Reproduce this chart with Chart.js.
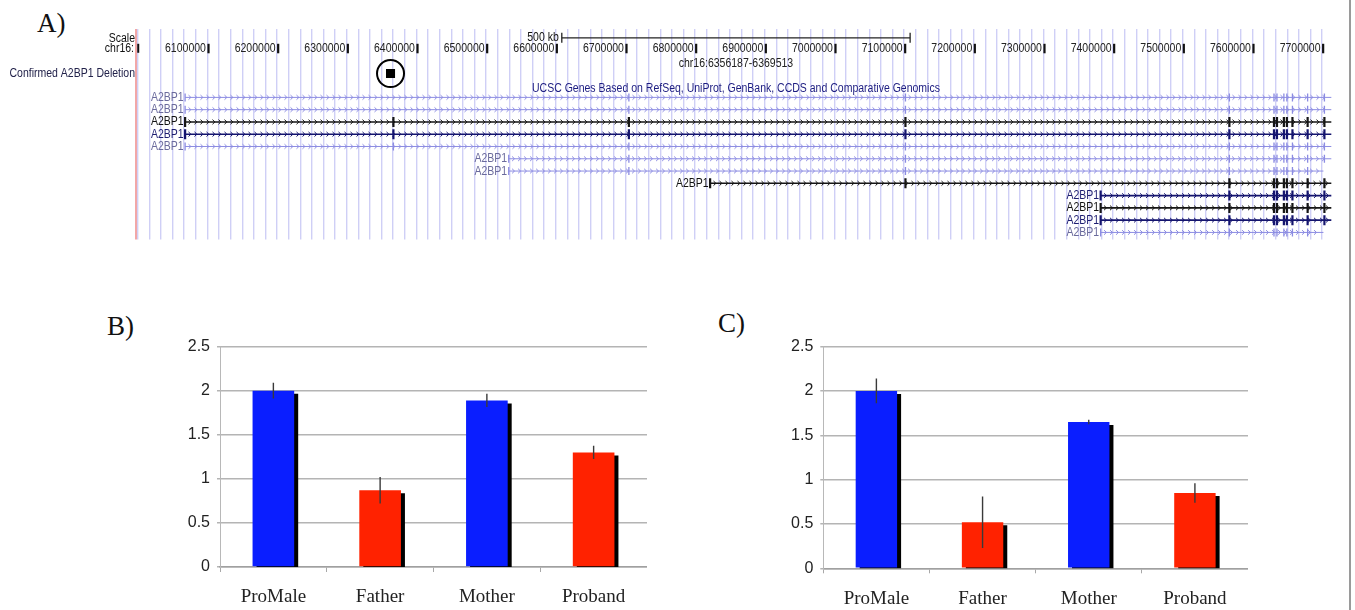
<!DOCTYPE html>
<html>
<head>
<meta charset="utf-8">
<script src="https://cdn.jsdelivr.net/npm/chart.js@4.4.0/dist/chart.umd.min.js"></script>
<style>
  body { margin: 0; background: #fff; width: 1355px; height: 610px; overflow: hidden; position: relative; }
  .panel { position: absolute; }
  .tag { position: absolute; font-family: "Liberation Serif", serif; font-size: 27px; line-height: 27px; color: #111; }
  #edge { position: absolute; left: 1349px; top: 0; width: 2px; height: 610px; background: #9a9a9a; }
</style>
</head>
<body>
<div class="tag" style="left:37px;top:10px">A)</div>
<div class="tag" style="left:107px;top:313px">B)</div>
<div class="tag" style="left:718px;top:310px">C)</div>
<div class="panel" style="left:0;top:0;width:1348px;height:255px"><canvas id="trackChart"></canvas></div>
<div class="panel" style="left:160px;top:330px;width:487px;height:280px"><canvas id="chartB"></canvas></div>
<div class="panel" style="left:770px;top:330px;width:478px;height:280px"><canvas id="chartC"></canvas></div>
<div id="edge"></div>
<script>
// ---- A) genome browser view, chr16 ----
const coordTicks = [6100000, 6200000, 6300000, 6400000, 6500000, 6600000, 6700000, 6800000,
  6900000, 7000000, 7100000, 7200000, 7300000, 7400000, 7500000, 7600000, 7700000];
const txRows = [1, 2, 3, 4, 5, 6, 7, 8, 9, 10, 11, 12];
const txStart = [6068000, 6068000, 6068000, 6068000, 6068000, 6532500, 6532500, 6821600, 7382200, 7382200, 7382200, 7382200];
const txEnd = [7713300, 7713300, 7713300, 7713300, 7713300, 7713300, 7702000, 7713300, 7713300, 7713300, 7713300, 7702000];
const exonPos = [6367000, 6705000, 7102000, 7567000, 7631000, 7635300, 7645200, 7649500, 7657500, 7679300, 7703400];
const exonRows = [
  [3, 4, 5],
  [1, 2, 3, 4, 5, 6, 7],
  [1, 2, 3, 4, 5, 6, 7, 8],
  txRows, txRows, txRows, txRows, txRows, txRows, txRows, txRows
];
const deletionRange = [6356187, 6369513];
const scaleBarRange = [6608700, 7108700];

// style per transcript row (kept apart from the values)
const txTone = ['light', 'light', 'dark', 'navy', 'light', 'light', 'light', 'dark', 'navy', 'dark', 'navy', 'light'];
const toneLine = { dark: '#151515', navy: '#14146e', light: '#8c8ce2' };
const toneText = { dark: '#111', navy: '#1c1c70', light: '#6a6a9c' };

// track rows on the y scale used for text lines
const scaleRow = -3.85, coordRow = -3.0, chrRangeRow = -1.72, deletionRow = -0.94, titleRow = 0.25;

function squeezeText(ctx, str, px, py, align, color) {
  ctx.save();
  ctx.font = '12.5px "Liberation Sans", Arial, sans-serif';
  ctx.fillStyle = color;
  ctx.textBaseline = 'middle';
  ctx.textAlign = align;
  ctx.translate(px, py);
  ctx.scale(0.84, 1);
  ctx.fillText(str, 0, 0);
  ctx.restore();
}

const trackDecor = {
  id: 'trackDecor',
  beforeDatasetsDraw(chart) {
    const { ctx, chartArea: a, scales: { x, y } } = chart;
    ctx.save();
    // red left edge of the browser image
    ctx.strokeStyle = '#ee8a8a';
    ctx.lineWidth = 1.5;
    ctx.beginPath(); ctx.moveTo(a.left, a.top); ctx.lineTo(a.left, a.bottom); ctx.stroke();
    // intron direction chevrons
    ctx.lineWidth = 1;
    txRows.forEach((r, i) => {
      const py = y.getPixelForValue(r);
      const x0 = x.getPixelForValue(txStart[i]), x1 = x.getPixelForValue(txEnd[i]);
      ctx.strokeStyle = toneLine[txTone[i]];
      ctx.beginPath();
      for (let px = x0 + 5; px < x1 - 2; px += 6) {
        ctx.moveTo(px - 1.6, py - 2.3);
        ctx.lineTo(px + 0.8, py);
        ctx.lineTo(px - 1.6, py + 2.3);
      }
      ctx.stroke();
    });
    ctx.restore();
  },
  afterDatasetsDraw(chart) {
    const { ctx, scales: { x, y } } = chart;
    const cy = y.getPixelForValue(coordRow);
    squeezeText(ctx, 'Scale', 135, y.getPixelForValue(scaleRow) + 1, 'right', '#111');
    squeezeText(ctx, 'chr16:', 134, cy, 'right', '#111');
    ctx.fillStyle = '#111';
    ctx.fillRect(x.getPixelForValue(6000000) - 0.5, cy - 4.5, 2, 9);
    coordTicks.forEach(v => {
      const p = x.getPixelForValue(v);
      ctx.fillStyle = '#111';
      ctx.fillRect(p, cy - 4.5, 2.2, 9.5);
      squeezeText(ctx, String(v), p - 1.5, cy, 'right', '#222');
    });
    const sb0 = x.getPixelForValue(scaleBarRange[0]), sb1 = x.getPixelForValue(scaleBarRange[1]);
    squeezeText(ctx, '500 kb', sb0 - 3, y.getPixelForValue(scaleRow), 'right', '#111');
    squeezeText(ctx, 'chr16:' + deletionRange[0] + '-' + deletionRange[1], (sb0 + sb1) / 2, y.getPixelForValue(chrRangeRow), 'center', '#222');
    squeezeText(ctx, 'Confirmed A2BP1 Deletion', 135, y.getPixelForValue(deletionRow), 'right', '#22224a');
    squeezeText(ctx, 'UCSC Genes Based on RefSeq, UniProt, GenBank, CCDS and Comparative Genomics',
      (sb0 + sb1) / 2, y.getPixelForValue(titleRow), 'center', '#1c1c80');
    txRows.forEach((r, i) => {
      squeezeText(ctx, 'A2BP1', x.getPixelForValue(txStart[i]) - 1.5, y.getPixelForValue(r), 'right', toneText[txTone[i]]);
    });
  }
};

const trackSets = [];
txRows.forEach((r, i) => {
  const tone = txTone[i];
  trackSets.push({
    data: [{ x: txStart[i], y: r }, { x: txEnd[i], y: r }],
    showLine: true,
    borderColor: toneLine[tone],
    borderWidth: tone === 'light' ? 1 : 1.6,
    pointRadius: 0
  });
});
['light', 'navy', 'dark'].forEach(tone => {
  const pts = [];
  txRows.forEach((r, i) => {
    if (txTone[i] !== tone) return;
    pts.push({ x: txStart[i], y: r });
    exonPos.forEach((p, j) => {
      if (exonRows[j].includes(r) && p >= txStart[i] && p <= txEnd[i]) pts.push({ x: p, y: r });
    });
  });
  trackSets.push({
    data: pts,
    pointStyle: 'line',
    pointRotation: 90,
    pointRadius: tone === 'light' ? 4 : 5,
    pointBorderWidth: tone === 'light' ? 1.3 : 2.2,
    pointBorderColor: toneLine[tone]
  });
});
const delMid = (deletionRange[0] + deletionRange[1]) / 2;
trackSets.push({
  data: [{ x: delMid, y: deletionRow }],
  pointStyle: 'rect', pointRadius: 6.4,
  pointBackgroundColor: '#000', pointBorderWidth: 0
});
trackSets.push({
  data: [{ x: delMid, y: deletionRow }],
  pointStyle: 'circle', pointRadius: 13.5,
  pointBackgroundColor: 'rgba(0,0,0,0)', pointBorderColor: '#000', pointBorderWidth: 2
});
trackSets.push({
  data: [{ x: scaleBarRange[0], y: scaleRow }, { x: scaleBarRange[1], y: scaleRow }],
  showLine: true, borderColor: '#222', borderWidth: 1.2,
  pointStyle: 'line', pointRotation: 90, pointRadius: 5, pointBorderWidth: 1.3, pointBorderColor: '#222'
});

new Chart(document.getElementById('trackChart'), {
  type: 'scatter',
  data: { datasets: trackSets },
  options: {
    responsive: true,
    maintainAspectRatio: false,
    animation: false,
    events: [],
    layout: { padding: { left: 136, top: 29, right: 1.8, bottom: 9 } },
    plugins: { legend: { display: false }, tooltip: { enabled: false } },
    scales: {
      x: {
        type: 'linear', position: 'top', min: 5997500, max: 7715000,
        afterBuildTicks(scale) {
          const step = 100000 / 6;
          const ticks = [];
          for (let v = Math.ceil(scale.min / step) * step; v <= scale.max; v += step) ticks.push({ value: v });
          scale.ticks = ticks;
        },
        afterFit(scale) { scale.height = 0; },
        ticks: { display: false },
        grid: { color: '#cfcff6', lineWidth: 1.4, drawTicks: false },
        border: { display: false }
      },
      y: { type: 'linear', display: false, min: -4.571, max: 12.576, reverse: true }
    }
  },
  plugins: [trackDecor]
});

// ---- B) and C) copy-number bar charts ----
const groups = ['ProMale', 'Father', 'Mother', 'Proband'];
const ratioB = [2.0, 0.87, 1.89, 1.30];
const errB = [0.09, 0.15, 0.075, 0.075];
const ratioC = [2.0, 0.52, 1.65, 0.85];
const errC = [0.14, 0.29, 0.025, 0.11];
const yTicks = [0, 0.5, 1, 1.5, 2, 2.5];
const barColors = ['#0a1eff', '#ff2200', '#0a1eff', '#ff2200'];

const barShadow = {
  id: 'barShadow',
  beforeDatasetDraw(chart, args) {
    if (args.index !== 0) return;
    const c = chart.ctx;
    c.save();
    c.shadowColor = '#000';
    c.shadowOffsetX = 4;
    c.shadowOffsetY = 3;
    c.shadowBlur = 0;
  },
  afterDatasetDraw(chart, args) {
    if (args.index === 0) chart.ctx.restore();
  }
};

function makeBarChart(id, values, errs, yAxisWidth, xAxisHeight) {
  return new Chart(document.getElementById(id), {
    type: 'bar',
    data: {
      labels: groups,
      datasets: [
        { data: values, backgroundColor: barColors, categoryPercentage: 1, barPercentage: 0.39, order: 1 },
        {
          data: values.map((v, i) => [v - errs[i], v + errs[i]]),
          backgroundColor: '#3a3a3a', maxBarThickness: 1.4, grouped: false, order: 0
        }
      ]
    },
    options: {
      responsive: true,
      maintainAspectRatio: false,
      animation: false,
      events: [],
      layout: { padding: { top: 13, left: 0, right: 0, bottom: 0 } },
      plugins: { legend: { display: false }, tooltip: { enabled: false } },
      scales: {
        x: {
          grid: { offset: true, drawOnChartArea: false, tickLength: 5, color: '#a8a8a8' },
          border: { color: '#a0a0a0', width: 1.5 },
          ticks: { color: '#222', padding: 14, font: { family: '"Liberation Serif", serif', size: 19 } },
          afterFit(scale) { scale.height = xAxisHeight; }
        },
        y: {
          min: 0, max: 2.5,
          afterBuildTicks(scale) { scale.ticks = yTicks.map(v => ({ value: v })); },
          grid: { color: '#b4b4b4', lineWidth: 1.5, tickLength: 3 },
          border: { color: '#b8b8b8', width: 1 },
          ticks: {
            color: '#222', padding: 7,
            font: { family: '"Liberation Sans", sans-serif', size: 16 },
            callback: v => String(v)
          },
          afterFit(scale) { scale.width = yAxisWidth; }
        }
      }
    },
    plugins: [barShadow]
  });
}

makeBarChart('chartB', ratioB, errB, 60, 43);
makeBarChart('chartC', ratioC, errC, 53.3, 41.7);
</script>
</body>
</html>
